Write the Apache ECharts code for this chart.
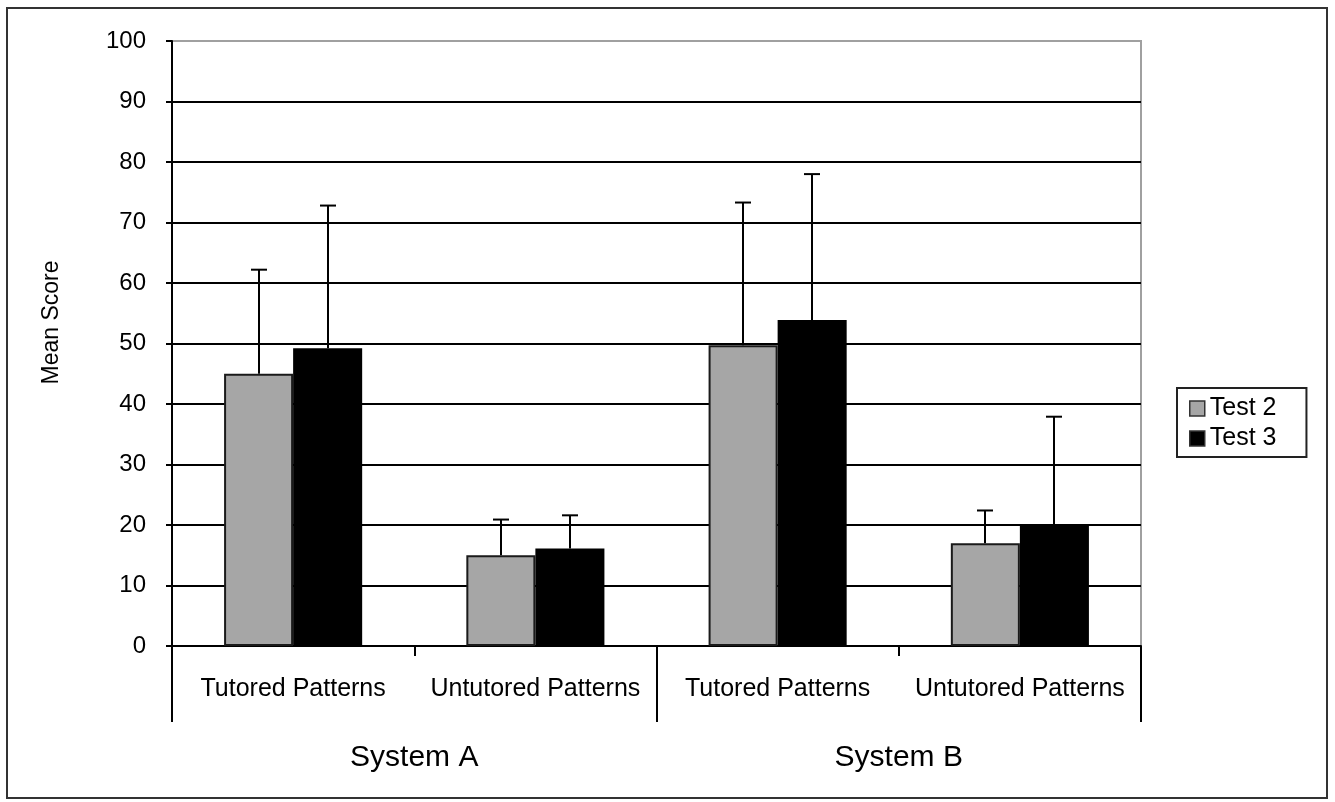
<!DOCTYPE html>
<html>
<head>
<meta charset="utf-8">
<script src="https://cdn.jsdelivr.net/npm/echarts@6/dist/echarts.min.js"></script>
<style>
html,body{margin:0;padding:0;background:#fff;}
#chart{width:1335px;height:802px;}
</style>
</head>
<body>
<div id="chart"></div>
<script>
// ---- data ----
const categories = ['Tutored Patterns', 'Untutored Patterns', 'Tutored Patterns', 'Untutored Patterns'];
const groups = ['System A', 'System B'];
const seriesNames = ['Test 2', 'Test 3'];
const test2Mean = [45.0, 15.0, 49.7, 17.0];
const test2Err  = [17.2, 5.9, 23.6, 5.4];
const test3Mean = [49.2, 16.1, 53.9, 20.0];
const test3Err  = [23.6, 5.5, 24.1, 17.9];
const yTicks = [0, 10, 20, 30, 40, 50, 60, 70, 80, 90, 100];

const FONT = 'Liberation Sans, Arial, sans-serif';
const CAT_GAP = 0.43;

function errSeries(means, errs, side) {
  return {
    type: 'custom',
    silent: true,
    z: 10,
    encode: { x: 0, y: 1 },
    data: means.map((m, i) => [i, m, errs[i]]),
    renderItem: function (params, api) {
      const i = api.value(0), m = api.value(1), e = api.value(2);
      const base = api.coord([i, m]);
      const top = api.coord([i, m + e]);
      const band = api.size([1, 0])[0];
      const bw = band * (1 - CAT_GAP) / 2;
      const x = Math.round(base[0] + side * bw / 2);
      const cap = 8;
      return {
        type: 'group',
        children: [
          { type: 'line', shape: { x1: x, y1: base[1], x2: x, y2: top[1] }, style: { stroke: '#000', lineWidth: 2 } },
          { type: 'line', shape: { x1: x - cap, y1: top[1], x2: x + cap, y2: top[1] }, style: { stroke: '#000', lineWidth: 2 } }
        ]
      };
    }
  };
}

const splitColors = yTicks.map((t, i) => i === yTicks.length - 1 ? '#a0a0a0' : '#000');

const chart = echarts.init(document.getElementById('chart'), null, { renderer: 'canvas' });
chart.setOption({
  animation: false,
  backgroundColor: '#fff',
  textStyle: { fontFamily: FONT },
  graphic: [{
    type: 'rect',
    shape: { x: 7, y: 8, width: 1320, height: 790 },
    style: { fill: 'none', stroke: '#333', lineWidth: 2 },
    z: 0
  }],
  grid: {
    left: 172, right: 194, top: 41, bottom: 156,
    show: true, borderColor: '#a0a0a0', borderWidth: 2, backgroundColor: '#fff'
  },
  legend: {
    data: seriesNames,
    orient: 'vertical',
    left: 1177, top: 388,
    backgroundColor: '#fff',
    borderColor: '#222', borderWidth: 2, borderRadius: 0,
    padding: [8, 30, 6, 12],
    itemWidth: 15, itemHeight: 15, itemGap: 5, itemTextGap: 5,
    icon: 'rect',
    itemStyle: { borderColor: '#333', borderWidth: 1.5 },
    textStyle: { fontFamily: FONT, fontSize: 25, color: '#000' }
  },
  xAxis: [{
    type: 'category',
    data: categories,
    position: 'bottom',
    axisLine: { show: true, lineStyle: { color: '#000', width: 2 } },
    axisTick: { show: true, length: 10, lineStyle: { color: '#000', width: 2 } },
    axisLabel: { fontFamily: FONT, fontSize: 25, color: '#000', margin: 31, interval: 0 },
    splitLine: { show: false }
  }, {
    type: 'category',
    data: groups,
    position: 'bottom',
    axisLine: { show: false },
    axisTick: { show: true, length: 76, lineStyle: { color: '#000', width: 2 } },
    axisLabel: { fontFamily: FONT, fontSize: 30, color: '#000', margin: 97, interval: 0 },
    splitLine: { show: false }
  }],
  yAxis: {
    type: 'value',
    min: 0, max: 100, interval: 10,
    name: 'Mean Score',
    nameLocation: 'middle',
    nameRotate: 90,
    nameGap: 109,
    nameTextStyle: { fontFamily: FONT, fontSize: 23, color: '#000', padding: [0, 0, 0, 42] },
    axisLine: { show: true, lineStyle: { color: '#000', width: 2 } },
    axisTick: { show: true, inside: false, length: 6, lineStyle: { color: '#000', width: 2 } },
    axisLabel: { fontFamily: FONT, fontSize: 24, color: '#000', margin: 26 },
    splitLine: { show: true, lineStyle: { color: splitColors, width: 2 } }
  },
  series: [{
    name: 'Test 2',
    type: 'bar',
    data: test2Mean,
    barGap: '0%',
    barCategoryGap: (CAT_GAP * 100) + '%',
    itemStyle: { color: '#a6a6a6', borderColor: '#1a1a1a', borderWidth: 2 },
    z: 5
  }, {
    name: 'Test 3',
    type: 'bar',
    data: test3Mean,
    barGap: '0%',
    barCategoryGap: (CAT_GAP * 100) + '%',
    itemStyle: { color: '#000', borderColor: '#000', borderWidth: 2 },
    z: 5
  },
  errSeries(test2Mean, test2Err, -1),
  errSeries(test3Mean, test3Err, 1)
  ]
});
</script>
</body>
</html>
